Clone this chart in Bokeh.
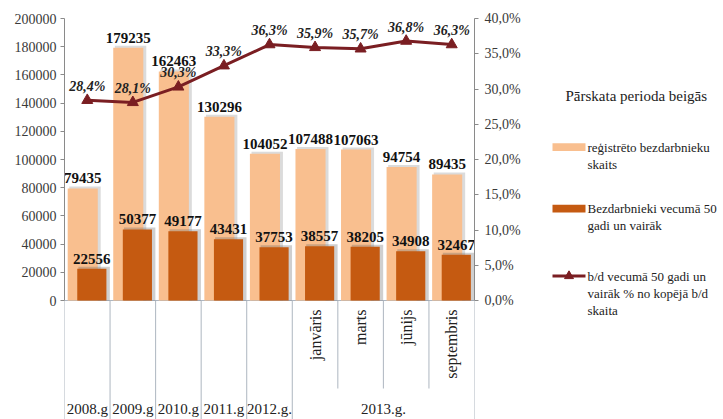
from bokeh.plotting import figure
from bokeh.models import (Range1d, LinearAxis, FixedTicker, NumeralTickFormatter,
                          ColumnDataSource)
from bokeh.layouts import row
from bokeh.core.properties import value
from bokeh.embed import file_html
from bokeh.resources import INLINE
import math

# ---------------- data ----------------
groups = ["2008.g", "2009.g", "2010.g", "2011.g", "2012.g.",
          "2013.g.", "2013.g.", "2013.g.", "2013.g."]
months = ["", "", "", "", "", "janvāris", "marts", "jūnijs", "septembris"]
registered = [79435, 179235, 162463, 130296, 104052, 107488, 107063, 94754, 89435]
over50 = [22556, 50377, 49177, 43431, 37753, 38557, 38205, 34908, 32467]
share = [28.4, 28.1, 30.3, 33.3, 36.3, 35.9, 35.7, 36.8, 36.3]
share_labels = ["28,4%", "28,1%", "30,3%", "33,3%", "36,3%", "35,9%", "35,7%", "36,8%", "36,3%"]
count_ticks = [0, 20000, 40000, 60000, 80000, 100000, 120000, 140000, 160000, 180000, 200000]
share_ticks = [0, 5, 10, 15, 20, 25, 30, 35, 40]
share_tick_labels = ["0,0%", "5,0%", "10,0%", "15,0%", "20,0%", "25,0%", "30,0%", "35,0%", "40,0%"]

legend_title = "Pārskata perioda beigās"
legend_names = [
    ["reģistrēto bezdarbnieku", "skaits"],
    ["Bezdarbnieki vecumā 50", "gadi un vairāk"],
    ["b/d vecumā 50 gadi un", "vairāk % no kopējā b/d", "skaita"],
]

# ---------------- style ----------------
FONT = "Liberation Serif"
LIGHT = "#F9BF8F"
DARK = "#C55A11"
MAROON = "#7A1E22"
SEP = "#AEB6C0"
AXIS = "#8A8A8A"
TXT = "#3A3A3A"

n = len(registered)
idx = list(range(n))
H = 419
PX = 200000 / 282.0          # data units per pixel on the count axis
y_top = 200000 + 8 * PX
y_bot = -119 * PX
pct_per_count = 40 / 200000

p = figure(width=534, height=H, output_backend="svg", toolbar_location=None,
           x_range=Range1d(-0.5, n - 0.5), y_range=Range1d(y_bot, y_top),
           x_axis_location=None, min_border_left=64, min_border_right=60,
           min_border_top=10, min_border_bottom=0)
p.extra_y_ranges = {"pct": Range1d(y_bot * pct_per_count, y_top * pct_per_count)}
p.outline_line_color = None
p.xgrid.visible = False
p.ygrid.visible = False
p.background_fill_color = "white"
p.border_fill_color = "white"

# left axis
ax = p.yaxis[0]
ax.ticker = FixedTicker(ticks=count_ticks)
ax.formatter = NumeralTickFormatter(format="0")
ax.bounds = (0, 200000)
ax.axis_line_color = AXIS
ax.major_tick_line_color = AXIS
ax.major_tick_out = 4
ax.major_tick_in = 0
ax.minor_tick_line_color = None
ax.major_label_text_font = FONT
ax.major_label_text_font_size = "14px"
ax.major_label_text_color = TXT
ax.major_label_standoff = 4

# right axis
rax = LinearAxis(y_range_name="pct", ticker=FixedTicker(ticks=share_ticks),
                 major_label_overrides={t: s for t, s in zip(share_ticks, share_tick_labels)})
rax.bounds = (0, 40)
rax.axis_line_color = AXIS
rax.major_tick_line_color = AXIS
rax.major_tick_out = 4
rax.major_tick_in = 0
rax.minor_tick_line_color = None
rax.major_label_text_font = FONT
rax.major_label_text_font_size = "14px"
rax.major_label_text_color = TXT
rax.major_label_standoff = 6
p.add_layout(rax, "right")

# ---------------- category table below the bars ----------------
xs0, xs1, ys0, ys1 = [], [], [], []
bounds = [-0.5] + [i + 0.5 for i in range(n)]
for b in bounds:
    i = int(b - 0.5)
    inner = 0 <= i < n - 1 and groups[i] == groups[i + 1]
    xs0.append(b); xs1.append(b)
    ys0.append(0); ys1.append(-88 * PX if inner else y_bot)
xs0.append(-0.5); xs1.append(n - 0.5); ys0.append(0); ys1.append(0)
p.segment(x0=xs0, y0=ys0, x1=xs1, y1=ys1, line_color=SEP, line_width=1)

# group (year) labels
glabels, gx = [], []
for g in dict.fromkeys(groups):
    members = [i for i in idx if groups[i] == g]
    glabels.append(g)
    gx.append(sum(members) / len(members))
p.text(x=gx, y=[-108 * PX] * len(gx), text=glabels, text_font=value(FONT),
       text_font_size="15px", text_color="#222222", text_align="center",
       text_baseline="middle")

# month labels (rotated)
mx = [i for i in idx if months[i]]
mt = [months[i] for i in mx]
p.text(x=mx, y=[-9 * PX] * len(mx), text=mt, angle=math.pi / 2, text_font=value(FONT),
       text_font_size="16px", text_color="#222222", text_align="right",
       text_baseline="middle")

# ---------------- bars ----------------
OFF = 0.1
BW = 0.66
src = ColumnDataSource(dict(
    xl=[i - OFF for i in idx], xd=[i + OFF for i in idx],
    xls=[i - OFF + 0.05 for i in idx], xds=[i + OFF + 0.05 for i in idx],
    reg=registered, o50=over50,
    regs=[v + 2 * PX for v in registered], o50s=[v + 2 * PX for v in over50],
    share=share, x=idx, share_lab=share_labels,
    reg_lab=[str(v) for v in registered], o50_lab=[str(v) for v in over50],
))

p.vbar(x="xls", top="regs", bottom=0, width=BW + 0.03, source=src,
       fill_color="#7f7f7f", fill_alpha=0.28, line_color=None)
p.vbar(x="xl", top="reg", bottom=0, width=BW, source=src,
       fill_color=LIGHT, line_color=None)
p.vbar(x="xds", top="o50s", bottom=0, width=BW + 0.03, source=src,
       fill_color="#5f5f5f", fill_alpha=0.3, line_color=None)
p.vbar(x="xd", top="o50", bottom=0, width=BW - 0.02, source=src,
       fill_color=DARK, line_color=None)

# share line
p.line(x="x", y="share", source=src, y_range_name="pct",
       line_color=MAROON, line_width=3)
p.scatter(x="x", y="share", source=src, y_range_name="pct",
          marker="triangle", size=11, fill_color=MAROON, line_color=MAROON)

# labels
p.text(x="xl", y="reg", text="reg_lab", source=src, text_font=value(FONT),
       text_font_style="bold", text_font_size="15px", text_color="#111111",
       text_align="center", text_baseline="alphabetic", y_offset=-10)
p.text(x="xd", y="o50", text="o50_lab", source=src, text_font=value(FONT),
       text_font_style="bold", text_font_size="15px", text_color="#111111",
       text_align="center", text_baseline="alphabetic", y_offset=-10)
p.text(x="x", y="share", text="share_lab", source=src, y_range_name="pct",
       text_font=value(FONT), text_font_style="bold italic", text_font_size="14px",
       text_color="#222222", text_align="center", text_baseline="alphabetic",
       y_offset=-14)

# ---------------- legend (separate panel, pixel coordinates, y down) ----------------
LW = 723 - 534
lg = figure(width=LW, height=H, output_backend="svg", toolbar_location=None,
            x_range=Range1d(0, LW), y_range=Range1d(H, 0),
            x_axis_location=None, y_axis_location=None,
            min_border=0)
lg.outline_line_color = None
lg.xgrid.visible = False
lg.ygrid.visible = False

lg.text(x=[31], y=[88], text=[legend_title], text_font=value(FONT),
        text_font_size="15px", text_color="#222222", text_baseline="middle")

item_y = [140, 203, 272]
line_gap = 17.5
for k, (names, yy) in enumerate(zip(legend_names, item_y)):
    lg.text(x=[53] * len(names), y=[yy + j * line_gap for j in range(len(names))],
            text=names, text_font=value(FONT), text_font_size="13px",
            text_color="#222222", text_baseline="middle")
lg.quad(left=[18], right=[51], top=[item_y[0] - 4], bottom=[item_y[0] + 4],
        fill_color=LIGHT, line_color=None)
lg.quad(left=[18], right=[51], top=[item_y[1] - 4], bottom=[item_y[1] + 4],
        fill_color=DARK, line_color=None)
lg.line(x=[18, 51], y=[item_y[2], item_y[2]], line_color=MAROON, line_width=3)
lg.scatter(x=[34.5], y=[item_y[2]], marker="triangle", size=9,
           fill_color=MAROON, line_color=MAROON)

layout = row(p, lg)
open("out.html", "w").write(file_html(layout, INLINE))
